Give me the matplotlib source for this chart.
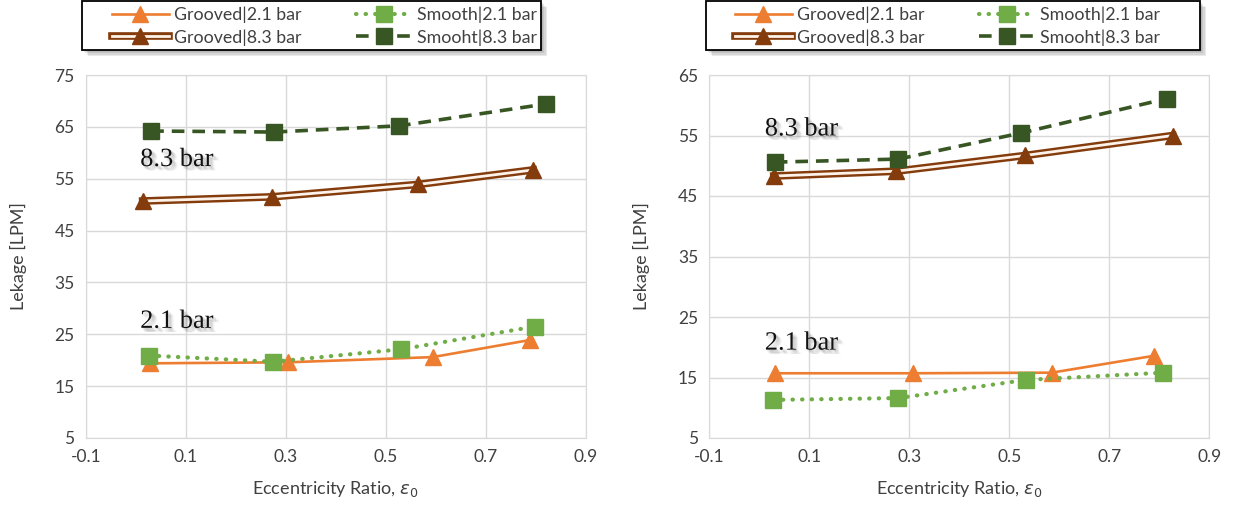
import matplotlib
matplotlib.use("Agg")
import matplotlib.pyplot as plt
import matplotlib.patheffects as pe
from matplotlib.patches import Rectangle
from matplotlib.legend_handler import HandlerTuple

# Leakage vs eccentricity ratio, two seal configurations
# left panel
left_g21_x = [0.028, 0.305, 0.594, 0.789]
left_g21_y = [19.4, 19.6, 20.6, 23.9]
left_s21_x = [0.027, 0.275, 0.530, 0.799]
left_s21_y = [20.9, 19.7, 22.1, 26.5]
left_g83_x = [0.014, 0.272, 0.565, 0.795]
left_g83_y = [50.7, 51.5, 53.9, 56.7]
left_s83_x = [0.031, 0.277, 0.527, 0.820]
left_s83_y = [64.2, 64.0, 65.2, 69.4]

# right panel
right_g21_x = [0.031, 0.308, 0.585, 0.790]
right_g21_y = [15.7, 15.7, 15.8, 18.6]
right_s21_x = [0.028, 0.278, 0.533, 0.808]
right_s21_y = [11.3, 11.6, 14.6, 15.8]
right_g83_x = [0.029, 0.274, 0.532, 0.827]
right_g83_y = [48.3, 49.1, 51.7, 55.0]
right_s83_x = [0.031, 0.278, 0.523, 0.815]
right_s83_y = [50.6, 51.1, 55.4, 61.1]

labels = ["Grooved|2.1 bar", "Grooved|8.3 bar", "Smooth|2.1 bar", "Smooht|8.3 bar"]
x_ticks = [-0.1, 0.1, 0.3, 0.5, 0.7, 0.9]
left_y_ticks = [5, 15, 25, 35, 45, 55, 65, 75]
right_y_ticks = [5, 15, 25, 35, 45, 55, 65]

ORANGE = "#ED7D31"
LGREEN = "#70AD47"
DGREEN = "#375623"
BROWN = "#843C0C"
GRID = "#d9d9d9"
TXT = "#404040"

plt.rcParams["font.family"] = ["Lato", "DejaVu Sans"]

W, H = 1239, 512
fig = plt.figure(figsize=(W / 100, H / 100), dpi=100)
ax_l = fig.add_axes([85.7 / W, 74 / H, 500 / W, 363 / H])
ax_r = fig.add_axes([709.3 / W, 74 / H, 500 / W, 363 / H])

double_line = [pe.Stroke(linewidth=5.5, foreground=BROWN),
               pe.Stroke(linewidth=2.0, foreground="#fdf3ea")]

# soft shadow: a few faint offset copies behind the text
text_shadow = [pe.SimplePatchShadow(offset=(dx, dy), shadow_rgbFace="#606060", alpha=0.07)
               for dx, dy in [(1, -1), (2, -2), (3, -3), (2, -1), (1, -2), (3, -2), (2, -3), (4, -3)]]
text_shadow.append(pe.Normal())


def draw_panel(ax, g21, s21, g83, s83, yticks, tag83, tag21):
    h_g21, = ax.plot(*g21, color=ORANGE, lw=1.9, marker="^", ms=12, zorder=3)
    g83_line, = ax.plot(*g83, color=BROWN, lw=5.5, path_effects=double_line, zorder=3)
    g83_mk, = ax.plot(*g83, linestyle="none", marker="^", ms=12, color=BROWN, zorder=3)
    h_s21, = ax.plot(*s21, color=LGREEN, lw=3, linestyle=(0, (0.1, 2.2)),
                     dash_capstyle="round", marker="s", ms=12, zorder=4)
    h_s83, = ax.plot(*s83, color=DGREEN, lw=2.6, linestyle=(0, (3.5, 2.2)),
                     marker="s", ms=12, zorder=4)
    ax.set_xlim(x_ticks[0], x_ticks[-1])
    ax.set_ylim(yticks[0], yticks[-1])
    ax.set_xticks(x_ticks)
    ax.set_xticklabels([f"{t:.1f}" for t in x_ticks])
    ax.set_yticks(yticks)
    ax.grid(True, color=GRID, lw=1)
    ax.set_axisbelow(True)
    for s in ax.spines.values():
        s.set_color(GRID)
    ax.tick_params(length=0, labelsize=12.5, colors=TXT, pad=8)
    ax.set_xlabel(r"Eccentricity Ratio, $\epsilon_0$", fontsize=13, color=TXT, labelpad=10)
    ax.set_ylabel("Lekage [LPM]", fontsize=13, color=TXT, labelpad=20)
    for (tx, ty), txt in ((tag83, "8.3 bar"), (tag21, "2.1 bar")):
        ax.text(tx, ty, txt, family="Liberation Serif", fontsize=19, va="center",
                color="#111111", path_effects=text_shadow, zorder=5)
    # column-wise legend order: grooved pair, then smooth pair
    return [h_g21, (g83_line, g83_mk), h_s21, h_s83]


handles = draw_panel(ax_l, (left_g21_x, left_g21_y), (left_s21_x, left_s21_y),
                     (left_g83_x, left_g83_y), (left_s83_x, left_s83_y),
                     left_y_ticks, (0.009, 58.6), (0.009, 27.4))
draw_panel(ax_r, (right_g21_x, right_g21_y), (right_s21_x, right_s21_y),
           (right_g83_x, right_g83_y), (right_s83_x, right_s83_y),
           right_y_ticks, (0.011, 56.0), (0.011, 20.6))

# legend boxes (pixel extents) with drop shadow, legend text laid out inside
box_shadow = [pe.SimplePatchShadow(offset=(o, -o), shadow_rgbFace="#505050", alpha=0.12)
              for o in (1.5, 2.5, 3.5, 4.5)]
box_shadow.append(pe.Normal())
for x0, x1, text_x in ((82, 541, 112), (706, 1200, 735)):
    rect = Rectangle((x0 / W, 1 - 50 / H), (x1 - x0) / W, 49 / H, transform=fig.transFigure,
                     facecolor="white", edgecolor="black", lw=1.3, path_effects=box_shadow,
                     zorder=1)
    fig.patches.append(rect)
    leg = fig.legend(handles, labels, ncol=2, loc="center left",
                     bbox_to_anchor=(text_x / W, 1 - 26 / H), frameon=False,
                     fontsize=12.8, handlelength=3.2, handletextpad=0.28,
                     columnspacing=3.05, labelspacing=0.35, borderpad=0,
                     borderaxespad=0, handler_map={tuple: HandlerTuple(ndivide=1)})
    leg.set_zorder(2)
    for t in leg.get_texts():
        t.set_color(TXT)

fig.savefig("out.png", dpi=100)
